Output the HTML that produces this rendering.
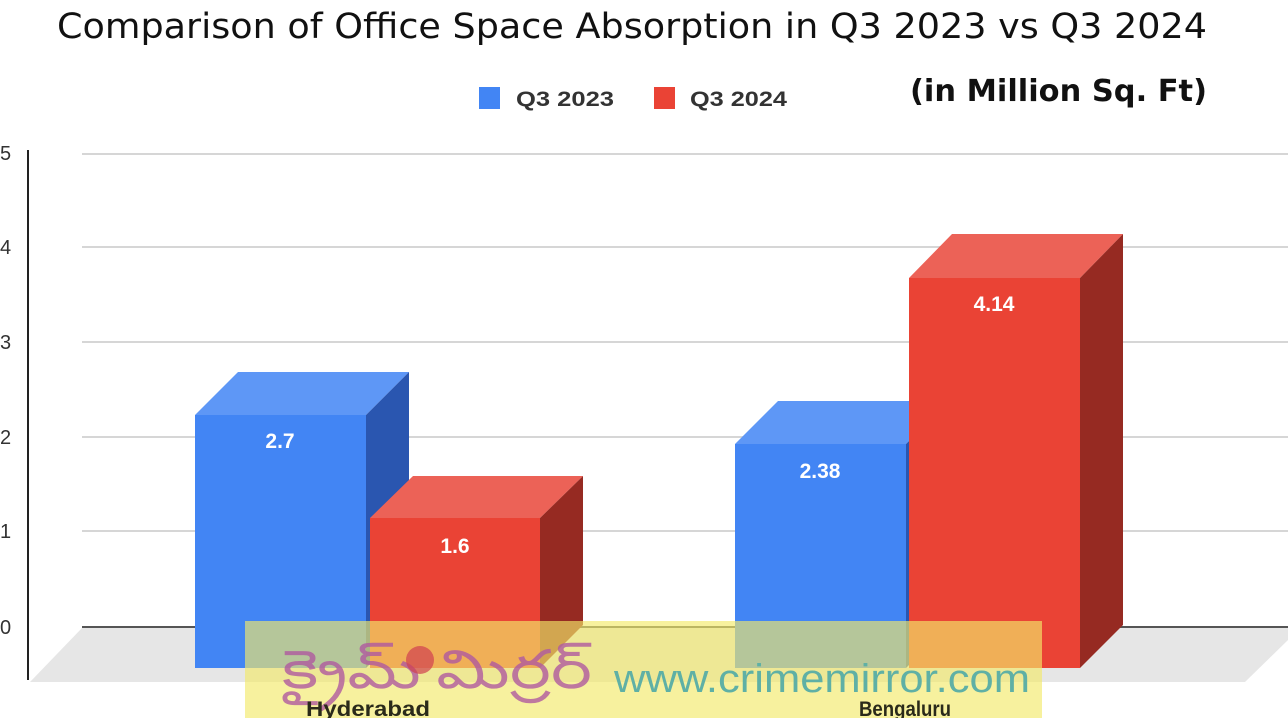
<!DOCTYPE html>
<html><head><meta charset="utf-8"><style>html,body{margin:0;padding:0;background:#fff;}svg{display:block}</style></head>
<body>
<svg width="1288" height="718" viewBox="0 0 1288 718" xmlns="http://www.w3.org/2000/svg">
<rect width="1288" height="718" fill="#fff"/>
<text x="57" y="38" font-family="DejaVu Sans, sans-serif" font-size="35" fill="#111" textLength="1150" lengthAdjust="spacingAndGlyphs">Comparison of Office Space Absorption in Q3 2023 vs Q3 2024</text>
<rect x="479" y="87" width="21" height="22" fill="#4285f4"/>
<text x="516" y="106" font-family="Liberation Sans, sans-serif" font-weight="bold" font-size="21" fill="#333" textLength="98" lengthAdjust="spacingAndGlyphs">Q3 2023</text>
<rect x="654" y="87" width="21" height="22" fill="#ea4335"/>
<text x="690" y="106" font-family="Liberation Sans, sans-serif" font-weight="bold" font-size="21" fill="#333" textLength="97" lengthAdjust="spacingAndGlyphs">Q3 2024</text>
<text x="910" y="101" font-family="DejaVu Sans, sans-serif" font-weight="bold" font-size="30" fill="#111" textLength="297" lengthAdjust="spacingAndGlyphs">(in Million Sq. Ft)</text>
<g font-family="Liberation Sans, sans-serif" font-size="20" fill="#333">
<text x="0" y="160">5</text><text x="0" y="254">4</text><text x="0" y="349">3</text><text x="0" y="444">2</text><text x="0" y="538">1</text><text x="0" y="634">0</text></g>
<g stroke="#d6d6d6" stroke-width="2">
<line x1="82" y1="154" x2="1288" y2="154"/><line x1="82" y1="247" x2="1288" y2="247"/><line x1="82" y1="342" x2="1288" y2="342"/><line x1="82" y1="437" x2="1288" y2="437"/><line x1="82" y1="531" x2="1288" y2="531"/></g>
<line x1="28" y1="150" x2="28" y2="680" stroke="#222" stroke-width="2"/>
<polygon points="82,628 1288,628 1288,640 1245,682 30,682" fill="#e6e6e6"/>
<line x1="82" y1="627" x2="1288" y2="627" stroke="#555" stroke-width="2"/>
<polygon points="195,415 238,372 409,372 366,415" fill="#5e97f6"/>
<polygon points="366,415 409,372 409,625 366,668" fill="#2a56b0"/>
<rect x="195" y="415" width="171" height="253" fill="#4285f4"/>
<polygon points="370,518 413,476 583,476 540,518" fill="#ec6257"/>
<polygon points="540,518 583,476 583,625 540,668" fill="#962a22"/>
<rect x="370" y="518" width="170" height="150" fill="#ea4335"/>
<polygon points="735,444 778,401 949,401 906,444" fill="#5e97f6"/>
<polygon points="906,444 949,401 949,625 906,668" fill="#2a56b0"/>
<rect x="735" y="444" width="171" height="224" fill="#4285f4"/>
<polygon points="909,278 952,234 1123,234 1080,278" fill="#ec6257"/>
<polygon points="1080,278 1123,234 1123,625 1080,668" fill="#962a22"/>
<rect x="909" y="278" width="171" height="390" fill="#ea4335"/>
<g font-family="Liberation Sans, sans-serif" font-weight="bold" font-size="21" fill="#fff" text-anchor="middle">
<text x="280" y="448">2.7</text><text x="455" y="553">1.6</text><text x="820" y="478">2.38</text><text x="994" y="311">4.14</text></g>
<rect x="245" y="621" width="797" height="97" fill="#f3ea6a" opacity="0.65"/>
<text x="282" y="688" font-family="Noto Sans CJK SC, sans-serif" font-size="54" fill="#b05aa0" opacity="0.8" textLength="310" lengthAdjust="spacingAndGlyphs">క్రైమ్ మిర్రర్</text>
<circle cx="420" cy="660" r="14" fill="#d04050" opacity="0.7"/>
<text x="614" y="692" font-family="Liberation Sans, sans-serif" font-size="40" fill="#5fb0a5" textLength="416" lengthAdjust="spacingAndGlyphs">www.crimemirror.com</text>
<g font-family="Liberation Sans, sans-serif" font-weight="bold" font-size="21" fill="#2a2a1a" text-anchor="middle">
<text x="368" y="716" textLength="124" lengthAdjust="spacingAndGlyphs">Hyderabad</text><text x="905" y="716" textLength="92" lengthAdjust="spacingAndGlyphs">Bengaluru</text></g>
</svg>
</body></html>
